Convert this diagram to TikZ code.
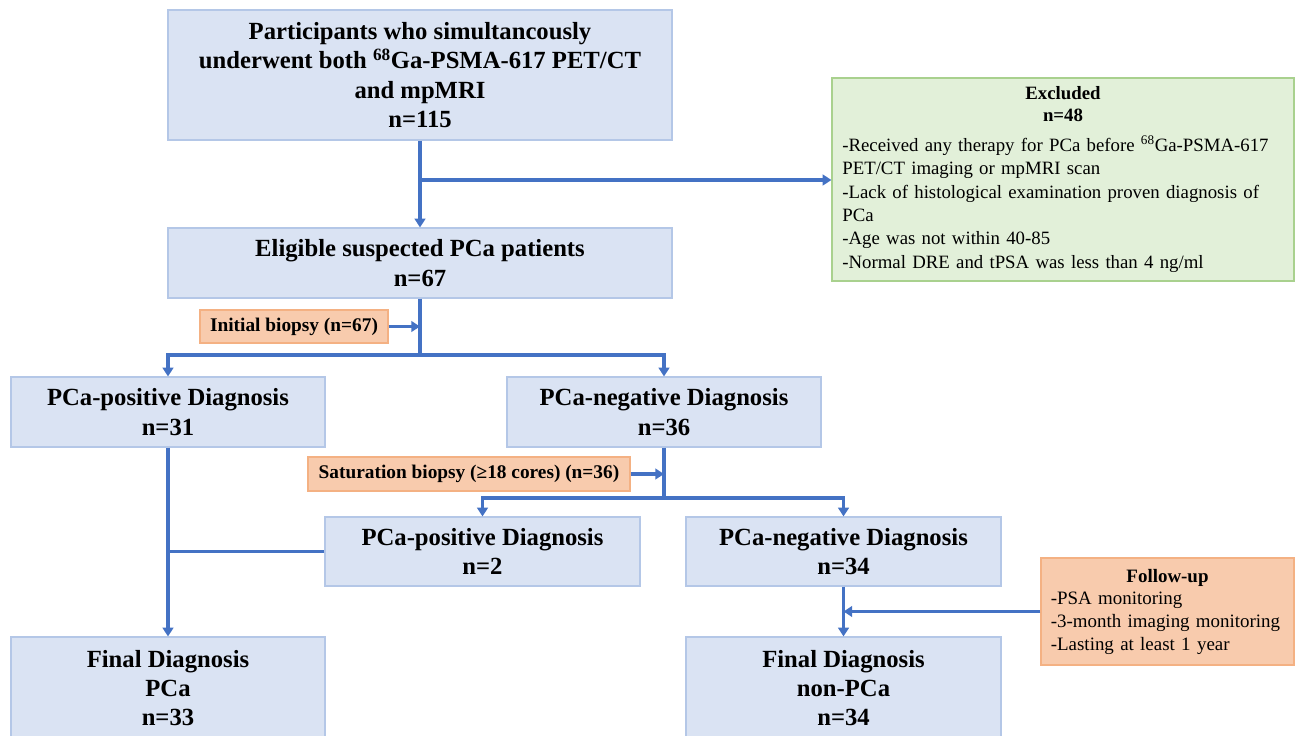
\documentclass[tikz,border=0pt]{standalone}
\usepackage{fontspec}
\setmainfont{Liberation Serif}
\usetikzlibrary{arrows.meta}
\definecolor{boxblue}{HTML}{DAE3F3}
\definecolor{boxline}{HTML}{B4C7E7}
\definecolor{greenfill}{HTML}{E2F0D9}
\definecolor{greenline}{HTML}{A9D18E}
\definecolor{orfill}{HTML}{F8CBAD}
\definecolor{orline}{HTML}{F4B183}
\definecolor{arrowblue}{HTML}{4472C4}

\begin{document}
\begin{tikzpicture}[x=0.75pt,y=-0.75pt,
    bluebox/.style={draw=boxline,fill=boxblue,line width=0.9pt,align=center,inner sep=0pt,
        font=\fontsize{18.5}{22}\selectfont\bfseries},
    orbox/.style={draw=orline,fill=orfill,line width=0.9pt,align=center,inner sep=0pt,
        font=\fontsize{14.5}{17}\selectfont\bfseries},
    line/.style={draw=arrowblue,line width=2.6pt},
    conn/.style={line,-{Triangle[length=6.5pt,width=8pt]}}]
\useasboundingbox (0,0) rectangle (1298,735);
\clip (0,0) rectangle (1298,735);

\node[bluebox,minimum width=378pt,minimum height=97.5pt] (part) at (420,75)
    {Participants who simultancously\\underwent both \textsuperscript{68}Ga-PSMA-617 PET/CT\\and mpMRI\\n=115};
\node[bluebox,minimum width=378pt,minimum height=52.5pt] (elig) at (420,263)
    {Eligible suspected PCa patients\\n=67};
\node[draw=greenline,fill=greenfill,line width=0.9pt,minimum width=346.5pt,minimum height=152.25pt,
    text width=331pt,font=\fontsize{14.1}{17.5}\selectfont] (excl) at (1063,179.5)
    {{\centering\bfseries Excluded\\[-1pt]n=48\par}\vspace{5pt}
    \raggedright -Received any therapy for PCa before \textsuperscript{68}Ga-PSMA-617\\
    PET/CT imaging or mpMRI scan\\
    -Lack of histological examination proven diagnosis of\\
    PCa\\
    -Age was not within 40-85\\
    -Normal DRE and tPSA was less than 4 ng/ml};

\node[orbox,minimum width=141pt,minimum height=24.75pt] (initb) at (294,326.5) {Initial biopsy (n=67)};
\node[bluebox,minimum width=235.5pt,minimum height=52.5pt] (posA) at (168,412) {PCa-positive Diagnosis\\n=31};
\node[bluebox,minimum width=235.5pt,minimum height=52.5pt] (negA) at (664,412) {PCa-negative Diagnosis\\n=36};

\node[orbox,minimum width=241.5pt,minimum height=25.5pt] (satb) at (469,474) {Saturation biopsy (≥18 cores) (n=36)};
\node[bluebox,minimum width=236.25pt,minimum height=51.75pt] (posB) at (482.5,551.5) {PCa-positive Diagnosis\\n=2};
\node[bluebox,minimum width=236.25pt,minimum height=51.75pt] (negB) at (843.5,551.5) {PCa-negative Diagnosis\\n=34};

\node[draw=orline,fill=orfill,line width=0.9pt,minimum width=189.75pt,minimum height=80.25pt,
    text width=175pt,font=\fontsize{14.2}{17}\selectfont] (follow) at (1167.5,611.5)
    {{\centering\bfseries Follow-up\par}
    \raggedright -PSA monitoring\\
    -3-month imaging monitoring\\
    -Lasting at least 1 year};

\node[bluebox,minimum width=235.5pt,minimum height=76.5pt] (finA) at (168,688) {Final Diagnosis\\PCa\\n=33};
\node[bluebox,minimum width=236.25pt,minimum height=76.5pt] (finB) at (843.5,688) {Final Diagnosis\\non-PCa\\n=34};

% connectors
\coordinate (j1) at (420,180);
\draw[conn] (part.south) -- (elig.north);
\draw[conn] (j1) -- (j1 -| excl.west);

\coordinate (j2) at (420,355);
\draw[line] (elig.south) -- (j2);
\draw[conn] (j2) -| (posA.north);
\draw[conn] (j2) -| (negA.north);
\draw[conn] (initb.east) -- (initb.east -| j2);

\coordinate (j3) at (664,498);
\draw[line] (negA.south) -- (j3);
\draw[conn] (j3) -| (posB.north);
\draw[conn] (j3) -| (negB.north);
\draw[conn] (satb.east) -- (satb.east -| j3);

\draw[conn] (posA.south) -- (finA.north);
\draw[line] (posB.west) -- (posB.west -| posA.south);
\draw[conn] (negB.south) -- (finB.north);
\draw[conn] (follow.west) -- (follow.west -| negB.south);
\end{tikzpicture}
\end{document}
